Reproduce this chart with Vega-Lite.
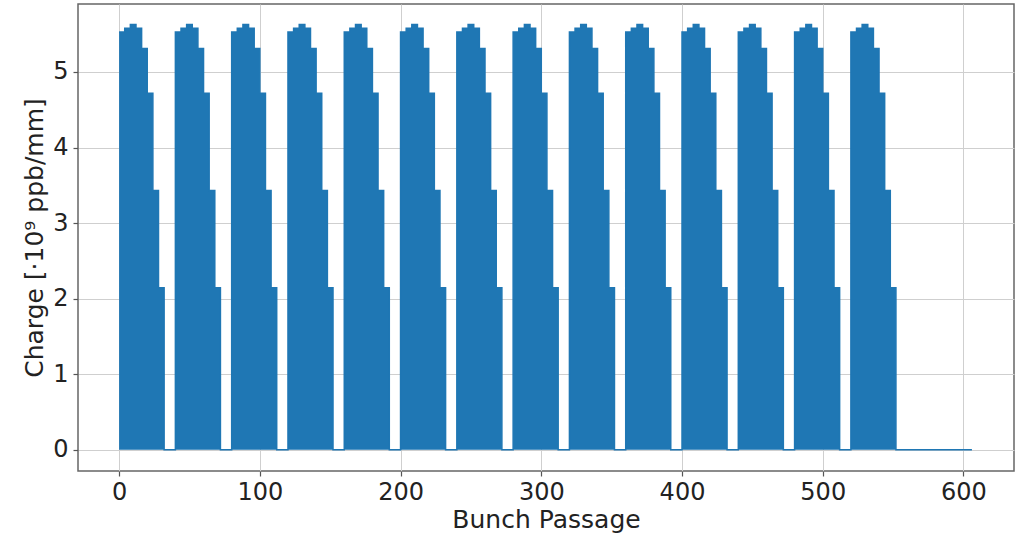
{
  "$schema": "https://vega.github.io/schema/vega-lite/v6.json",
  "width": 936,
  "height": 467,
  "autosize": {"type": "none"},
  "padding": {"left": 78, "top": 4, "right": 14, "bottom": 62},
  "background": "white",
  "config": {
    "font": "DejaVu Sans",
    "view": {"stroke": "#666666", "strokeWidth": 1.5},
    "axis": {
      "domain": false,
      "grid": true,
      "gridColor": "#cfcfcf",
      "gridWidth": 1,
      "tickColor": "#555555",
      "tickSize": 5,
      "tickWidth": 1.2,
      "labelFont": "DejaVu Sans",
      "labelFontSize": 24,
      "labelColor": "#222222",
      "titleFont": "DejaVu Sans",
      "titleFontSize": 25,
      "titleFontWeight": "normal",
      "titleColor": "#222222"
    }
  },
  "data": {
    "values": [
      {"passage": 0, "charge": 5.53}, {"passage": 4, "charge": 5.58}, {"passage": 8, "charge": 5.63}, {"passage": 12, "charge": 5.58}, {"passage": 16, "charge": 5.31}, {"passage": 20, "charge": 4.72}, {"passage": 24, "charge": 3.43}, {"passage": 28, "charge": 2.145}, {"passage": 32, "charge": 0},
      {"passage": 40, "charge": 5.53}, {"passage": 44, "charge": 5.58}, {"passage": 48, "charge": 5.63}, {"passage": 52, "charge": 5.58}, {"passage": 56, "charge": 5.31}, {"passage": 60, "charge": 4.72}, {"passage": 64, "charge": 3.43}, {"passage": 68, "charge": 2.145}, {"passage": 72, "charge": 0},
      {"passage": 80, "charge": 5.53}, {"passage": 84, "charge": 5.58}, {"passage": 88, "charge": 5.63}, {"passage": 92, "charge": 5.58}, {"passage": 96, "charge": 5.31}, {"passage": 100, "charge": 4.72}, {"passage": 104, "charge": 3.43}, {"passage": 108, "charge": 2.145}, {"passage": 112, "charge": 0},
      {"passage": 120, "charge": 5.53}, {"passage": 124, "charge": 5.58}, {"passage": 128, "charge": 5.63}, {"passage": 132, "charge": 5.58}, {"passage": 136, "charge": 5.31}, {"passage": 140, "charge": 4.72}, {"passage": 144, "charge": 3.43}, {"passage": 148, "charge": 2.145}, {"passage": 152, "charge": 0},
      {"passage": 160, "charge": 5.53}, {"passage": 164, "charge": 5.58}, {"passage": 168, "charge": 5.63}, {"passage": 172, "charge": 5.58}, {"passage": 176, "charge": 5.31}, {"passage": 180, "charge": 4.72}, {"passage": 184, "charge": 3.43}, {"passage": 188, "charge": 2.145}, {"passage": 192, "charge": 0},
      {"passage": 200, "charge": 5.53}, {"passage": 204, "charge": 5.58}, {"passage": 208, "charge": 5.63}, {"passage": 212, "charge": 5.58}, {"passage": 216, "charge": 5.31}, {"passage": 220, "charge": 4.72}, {"passage": 224, "charge": 3.43}, {"passage": 228, "charge": 2.145}, {"passage": 232, "charge": 0},
      {"passage": 240, "charge": 5.53}, {"passage": 244, "charge": 5.58}, {"passage": 248, "charge": 5.63}, {"passage": 252, "charge": 5.58}, {"passage": 256, "charge": 5.31}, {"passage": 260, "charge": 4.72}, {"passage": 264, "charge": 3.43}, {"passage": 268, "charge": 2.145}, {"passage": 272, "charge": 0},
      {"passage": 280, "charge": 5.53}, {"passage": 284, "charge": 5.58}, {"passage": 288, "charge": 5.63}, {"passage": 292, "charge": 5.58}, {"passage": 296, "charge": 5.31}, {"passage": 300, "charge": 4.72}, {"passage": 304, "charge": 3.43}, {"passage": 308, "charge": 2.145}, {"passage": 312, "charge": 0},
      {"passage": 320, "charge": 5.53}, {"passage": 324, "charge": 5.58}, {"passage": 328, "charge": 5.63}, {"passage": 332, "charge": 5.58}, {"passage": 336, "charge": 5.31}, {"passage": 340, "charge": 4.72}, {"passage": 344, "charge": 3.43}, {"passage": 348, "charge": 2.145}, {"passage": 352, "charge": 0},
      {"passage": 360, "charge": 5.53}, {"passage": 364, "charge": 5.58}, {"passage": 368, "charge": 5.63}, {"passage": 372, "charge": 5.58}, {"passage": 376, "charge": 5.31}, {"passage": 380, "charge": 4.72}, {"passage": 384, "charge": 3.43}, {"passage": 388, "charge": 2.145}, {"passage": 392, "charge": 0},
      {"passage": 400, "charge": 5.53}, {"passage": 404, "charge": 5.58}, {"passage": 408, "charge": 5.63}, {"passage": 412, "charge": 5.58}, {"passage": 416, "charge": 5.31}, {"passage": 420, "charge": 4.72}, {"passage": 424, "charge": 3.43}, {"passage": 428, "charge": 2.145}, {"passage": 432, "charge": 0},
      {"passage": 440, "charge": 5.53}, {"passage": 444, "charge": 5.58}, {"passage": 448, "charge": 5.63}, {"passage": 452, "charge": 5.58}, {"passage": 456, "charge": 5.31}, {"passage": 460, "charge": 4.72}, {"passage": 464, "charge": 3.43}, {"passage": 468, "charge": 2.145}, {"passage": 472, "charge": 0},
      {"passage": 480, "charge": 5.53}, {"passage": 484, "charge": 5.58}, {"passage": 488, "charge": 5.63}, {"passage": 492, "charge": 5.58}, {"passage": 496, "charge": 5.31}, {"passage": 500, "charge": 4.72}, {"passage": 504, "charge": 3.43}, {"passage": 508, "charge": 2.145}, {"passage": 512, "charge": 0},
      {"passage": 520, "charge": 5.53}, {"passage": 524, "charge": 5.58}, {"passage": 528, "charge": 5.63}, {"passage": 532, "charge": 5.58}, {"passage": 536, "charge": 5.31}, {"passage": 540, "charge": 4.72}, {"passage": 544, "charge": 3.43}, {"passage": 548, "charge": 2.145}, {"passage": 552, "charge": 0},
      {"passage": 606, "charge": 0}
    ]
  },
  "encoding": {
    "x": {
      "field": "passage",
      "type": "quantitative",
      "scale": {"domain": [-29.2, 635.9], "nice": false, "zero": false},
      "axis": {"values": [0, 100, 200, 300, 400, 500, 600], "title": "Bunch Passage", "labelPadding": 4, "titlePadding": 3}
    },
    "y": {
      "field": "charge",
      "type": "quantitative",
      "scale": {"domain": [-0.281, 5.9], "nice": false, "zero": false},
      "axis": {"values": [0, 1, 2, 3, 4, 5], "title": "Charge [·10⁹ ppb/mm]", "labelPadding": 5, "titlePadding": 5}
    }
  },
  "layer": [
    {
      "mark": {"type": "area", "interpolate": "step-after", "color": "#1f77b4", "opacity": 1},
      "encoding": {"y2": {"datum": 0}}
    },
    {
      "mark": {"type": "line", "interpolate": "step-after", "color": "#1f77b4", "strokeWidth": 1.5},
      "encoding": {}
    }
  ]
}
